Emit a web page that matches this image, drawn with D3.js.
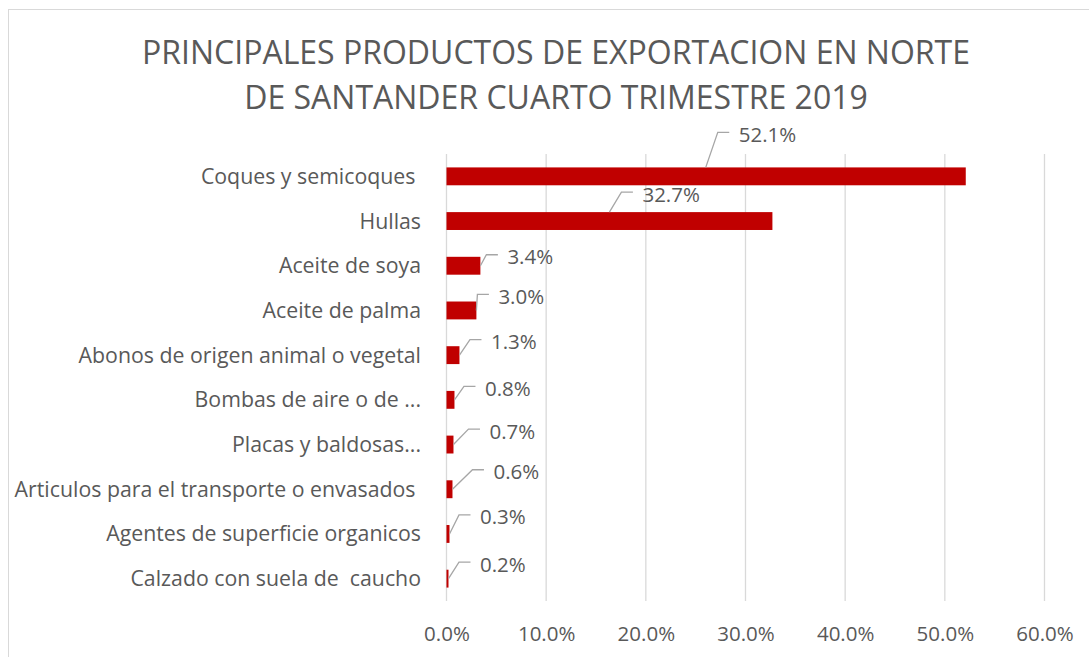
<!DOCTYPE html>
<html>
<head>
<meta charset="utf-8">
<script src="https://cdn.jsdelivr.net/npm/d3@7/dist/d3.min.js"></script>
<style>
body{margin:0;background:#fff;}
text{font-family:"Open Sans",Lato,sans-serif;fill:#595959;}
</style>
</head>
<body>
<div id="chart"></div>
<script>
// data
var categories=["Coques y semicoques ","Hullas","Aceite de soya","Aceite de palma",
	"Abonos de origen animal o vegetal","Bombas de aire o de ...","Placas y baldosas...",
	"Articulos para el transporte o envasados ","Agentes de superficie organicos",
	"Calzado con suela de  caucho"];
var values=[52.1,32.7,3.4,3.0,1.3,0.8,0.7,0.6,0.3,0.2];
var ticks=[0,10,20,30,40,50,60];
var titleLines=["PRINCIPALES PRODUCTOS DE EXPORTACION EN NORTE","DE SANTANDER CUARTO TRIMESTRE 2019"];
// label offsets (px) from bar end / band centre, as dragged in the original
var labelDx=[-227,-130,27,22,31.5,30.5,36,41,30.5,31.5];
var labelDy=[-34.5,-19.5,-1.5,-6.5,-6,-4,-6,-10,-9.5,-7];

var W=1089,H=657;
var x0=446.5,x1=1044.5,yTop=154,yBot=601;

var svg=d3.select("#chart").append("svg")
	.attr("width",W)
	.attr("height",H);

// chart border (cropped at right and bottom)
svg.append("rect")
	.attr("x",8.5).attr("y",9.5)
	.attr("width",1100).attr("height",700)
	.attr("fill","none")
	.attr("stroke","#d9d9d9");

var x=d3.scaleLinear().domain([0,60]).range([x0,x1]);
var y=d3.scaleBand().domain(categories).range([yTop,yBot]).paddingInner(0.6).paddingOuter(0.3);

// title
svg.selectAll(".title")
	.data(titleLines)
	.enter()
	.append("text")
	.attr("class","title")
	.attr("x",556)
	.attr("y",function(d,i){ return 63.5+i*45;})
	.attr("text-anchor","middle")
	.style("font-size","32px")
	.text(function(d){ return d;});

// gridlines
svg.append("g")
	.selectAll("line")
	.data(ticks)
	.enter()
	.append("line")
	.attr("x1",function(d){ return x(d);})
	.attr("x2",function(d){ return x(d);})
	.attr("y1",yTop)
	.attr("y2",yBot)
	.attr("stroke","#d9d9d9")
	.attr("stroke-width",1.3);

// x axis labels
var xAxis=d3.axisBottom(x).tickValues(ticks).tickSize(0).tickPadding(0)
	.tickFormat(function(d){ return d.toFixed(1)+"%";});
var gx=svg.append("g").attr("transform","translate(0,"+(yBot+25)+")").call(xAxis);
gx.select(".domain").remove();
gx.selectAll("text")
	.attr("dy",null)
	.attr("y",15)
	.style("font-family","Open Sans")
	.style("font-size","20.5px")
	.attr("fill","#595959");

// y axis labels
var yAxis=d3.axisLeft(y).tickSize(0).tickPadding(0);
var gy=svg.append("g").attr("transform","translate(421,0)").call(yAxis);
gy.select(".domain").remove();
gy.selectAll("text")
	.attr("dy","0.35em")
	.style("font-family","Open Sans")
	.style("font-size","21.3px")
	.style("white-space","pre")
	.attr("fill","#595959");

// bars
svg.append("g")
	.selectAll("rect")
	.data(values)
	.enter()
	.append("rect")
	.attr("x",x(0))
	.attr("y",function(d,i){ return y(categories[i]);})
	.attr("width",function(d){ return x(d)-x(0);})
	.attr("height",y.bandwidth())
	.attr("fill","#c00000");

// data labels with leader lines
var lab=svg.append("g");
values.forEach(function(v,i){
	var c=y(categories[i])+y.bandwidth()/2;
	var tx=x(v)+labelDx[i], ty=c+labelDy[i];
	var ex=tx-21, ey=ty-9.5;
	var sx,sy;
	if(tx<x(v)){ sx=ex-12; sy=y(categories[i]); }
	else { sx=x(v); sy=c; }
	lab.append("path")
		.attr("d","M"+sx+","+sy+"L"+ex+","+ey+"L"+(tx-9.5)+","+ey)
		.attr("fill","none")
		.attr("stroke","#a6a6a6")
		.attr("stroke-width",1.3);
	lab.append("text")
		.attr("x",tx)
		.attr("y",ty)
		.style("font-size","20.5px")
		.text(v.toFixed(1)+"%");
});
</script>
</body>
</html>
